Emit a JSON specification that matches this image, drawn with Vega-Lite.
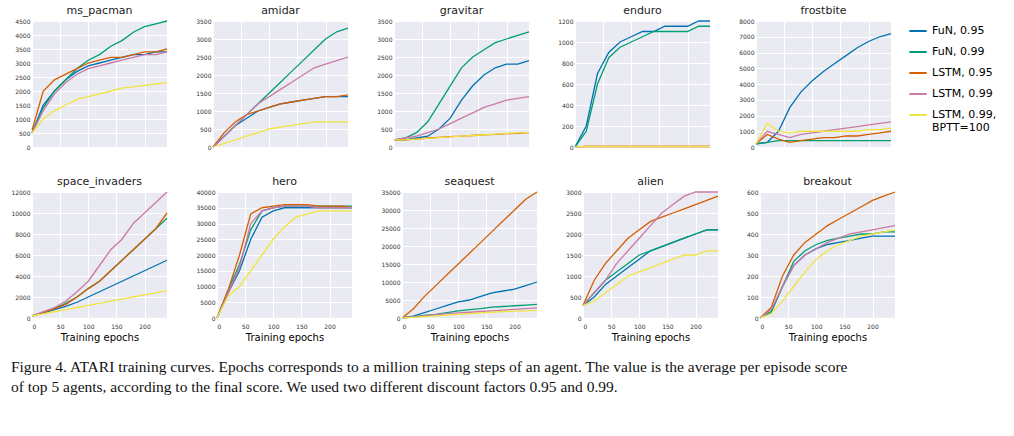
{
  "$schema": "https://vega.github.io/schema/vega-lite/v6.json",
  "background": "white",
  "padding": {"left": 10, "top": 5, "right": 5, "bottom": 5},
  "data": {"values": [
    {"g":"ms_pacman","e":0,"a":500,"b":500,"c":600,"d":500,"f":500},
    {"g":"ms_pacman","e":20,"a":1500,"b":1400,"c":2000,"d":1300,"f":1000},
    {"g":"ms_pacman","e":40,"a":2000,"b":2000,"c":2400,"d":1900,"f":1300},
    {"g":"ms_pacman","e":60,"a":2400,"b":2400,"c":2600,"d":2300,"f":1500},
    {"g":"ms_pacman","e":80,"a":2700,"b":2800,"c":2800,"d":2600,"f":1700},
    {"g":"ms_pacman","e":100,"a":2900,"b":3100,"c":3000,"d":2800,"f":1800},
    {"g":"ms_pacman","e":120,"a":3000,"b":3300,"c":3100,"d":2900,"f":1900},
    {"g":"ms_pacman","e":140,"a":3100,"b":3600,"c":3200,"d":3000,"f":2000},
    {"g":"ms_pacman","e":160,"a":3200,"b":3800,"c":3200,"d":3100,"f":2100},
    {"g":"ms_pacman","e":180,"a":3300,"b":4100,"c":3300,"d":3200,"f":2150},
    {"g":"ms_pacman","e":200,"a":3300,"b":4300,"c":3400,"d":3300,"f":2200},
    {"g":"ms_pacman","e":220,"a":3400,"b":4400,"c":3400,"d":3300,"f":2250},
    {"g":"ms_pacman","e":240,"a":3400,"b":4500,"c":3500,"d":3400,"f":2300},
    {"g":"amidar","e":0,"a":0,"b":0,"c":0,"d":0,"f":0},
    {"g":"amidar","e":20,"a":300,"b":300,"c":400,"d":300,"f":100},
    {"g":"amidar","e":40,"a":600,"b":600,"c":700,"d":600,"f":200},
    {"g":"amidar","e":60,"a":800,"b":900,"c":900,"d":900,"f":300},
    {"g":"amidar","e":80,"a":1000,"b":1200,"c":1000,"d":1200,"f":400},
    {"g":"amidar","e":100,"a":1100,"b":1500,"c":1100,"d":1400,"f":500},
    {"g":"amidar","e":120,"a":1200,"b":1800,"c":1200,"d":1600,"f":550},
    {"g":"amidar","e":140,"a":1250,"b":2100,"c":1250,"d":1800,"f":600},
    {"g":"amidar","e":160,"a":1300,"b":2400,"c":1300,"d":2000,"f":650},
    {"g":"amidar","e":180,"a":1350,"b":2700,"c":1350,"d":2200,"f":700},
    {"g":"amidar","e":200,"a":1400,"b":3000,"c":1400,"d":2300,"f":700},
    {"g":"amidar","e":220,"a":1400,"b":3200,"c":1400,"d":2400,"f":700},
    {"g":"amidar","e":240,"a":1400,"b":3300,"c":1450,"d":2500,"f":700},
    {"g":"gravitar","e":0,"a":200,"b":200,"c":200,"d":200,"f":200},
    {"g":"gravitar","e":20,"a":200,"b":250,"c":200,"d":250,"f":200},
    {"g":"gravitar","e":40,"a":250,"b":400,"c":220,"d":300,"f":220},
    {"g":"gravitar","e":60,"a":300,"b":700,"c":250,"d":400,"f":240},
    {"g":"gravitar","e":80,"a":500,"b":1200,"c":270,"d":500,"f":260},
    {"g":"gravitar","e":100,"a":800,"b":1700,"c":290,"d":650,"f":280},
    {"g":"gravitar","e":120,"a":1300,"b":2200,"c":300,"d":800,"f":300},
    {"g":"gravitar","e":140,"a":1700,"b":2500,"c":320,"d":950,"f":320},
    {"g":"gravitar","e":160,"a":2000,"b":2700,"c":340,"d":1100,"f":340},
    {"g":"gravitar","e":180,"a":2200,"b":2900,"c":350,"d":1200,"f":360},
    {"g":"gravitar","e":200,"a":2300,"b":3000,"c":370,"d":1300,"f":380},
    {"g":"gravitar","e":220,"a":2300,"b":3100,"c":380,"d":1350,"f":390},
    {"g":"gravitar","e":240,"a":2400,"b":3200,"c":400,"d":1400,"f":400},
    {"g":"enduro","e":0,"a":0,"b":0,"c":0,"d":0,"f":0},
    {"g":"enduro","e":20,"a":200,"b":150,"c":5,"d":5,"f":5},
    {"g":"enduro","e":40,"a":700,"b":600,"c":5,"d":5,"f":5},
    {"g":"enduro","e":60,"a":900,"b":850,"c":5,"d":5,"f":5},
    {"g":"enduro","e":80,"a":1000,"b":950,"c":5,"d":5,"f":5},
    {"g":"enduro","e":100,"a":1050,"b":1000,"c":5,"d":5,"f":5},
    {"g":"enduro","e":120,"a":1100,"b":1050,"c":5,"d":5,"f":5},
    {"g":"enduro","e":140,"a":1100,"b":1100,"c":5,"d":5,"f":5},
    {"g":"enduro","e":160,"a":1150,"b":1100,"c":5,"d":5,"f":5},
    {"g":"enduro","e":180,"a":1150,"b":1100,"c":5,"d":5,"f":5},
    {"g":"enduro","e":200,"a":1150,"b":1100,"c":5,"d":5,"f":5},
    {"g":"enduro","e":220,"a":1200,"b":1150,"c":5,"d":5,"f":5},
    {"g":"enduro","e":240,"a":1200,"b":1150,"c":5,"d":5,"f":5},
    {"g":"frostbite","e":0,"a":200,"b":200,"c":200,"d":200,"f":200},
    {"g":"frostbite","e":20,"a":300,"b":300,"c":800,"d":1000,"f":1500},
    {"g":"frostbite","e":40,"a":1000,"b":400,"c":500,"d":800,"f":1000},
    {"g":"frostbite","e":60,"a":2500,"b":400,"c":300,"d":600,"f":900},
    {"g":"frostbite","e":80,"a":3500,"b":400,"c":400,"d":800,"f":1000},
    {"g":"frostbite","e":100,"a":4200,"b":400,"c":500,"d":900,"f":1000},
    {"g":"frostbite","e":120,"a":4800,"b":400,"c":600,"d":1000,"f":1000},
    {"g":"frostbite","e":140,"a":5300,"b":400,"c":600,"d":1100,"f":1000},
    {"g":"frostbite","e":160,"a":5800,"b":400,"c":700,"d":1200,"f":1000},
    {"g":"frostbite","e":180,"a":6300,"b":400,"c":700,"d":1300,"f":1000},
    {"g":"frostbite","e":200,"a":6700,"b":400,"c":800,"d":1400,"f":1100},
    {"g":"frostbite","e":220,"a":7000,"b":400,"c":900,"d":1500,"f":1100},
    {"g":"frostbite","e":240,"a":7200,"b":400,"c":1000,"d":1600,"f":1200},
    {"g":"space_invaders","e":0,"a":200,"b":200,"c":200,"d":200,"f":200},
    {"g":"space_invaders","e":20,"a":500,"b":500,"c":500,"d":600,"f":400},
    {"g":"space_invaders","e":40,"a":800,"b":900,"c":900,"d":1000,"f":600},
    {"g":"space_invaders","e":60,"a":1100,"b":1400,"c":1300,"d":1600,"f":800},
    {"g":"space_invaders","e":80,"a":1500,"b":2000,"c":2000,"d":2500,"f":1000},
    {"g":"space_invaders","e":100,"a":2000,"b":2800,"c":2800,"d":3500,"f":1200},
    {"g":"space_invaders","e":120,"a":2500,"b":3500,"c":3500,"d":5000,"f":1400},
    {"g":"space_invaders","e":140,"a":3000,"b":4500,"c":4500,"d":6500,"f":1600},
    {"g":"space_invaders","e":160,"a":3500,"b":5500,"c":5500,"d":7500,"f":1800},
    {"g":"space_invaders","e":180,"a":4000,"b":6500,"c":6500,"d":9000,"f":2000},
    {"g":"space_invaders","e":200,"a":4500,"b":7500,"c":7500,"d":10000,"f":2200},
    {"g":"space_invaders","e":220,"a":5000,"b":8500,"c":8500,"d":11000,"f":2400},
    {"g":"space_invaders","e":240,"a":5500,"b":9500,"c":10000,"d":12000,"f":2600},
    {"g":"hero","e":0,"a":0,"b":0,"c":0,"d":0,"f":0},
    {"g":"hero","e":20,"a":8000,"b":9000,"c":9000,"d":8000,"f":7000},
    {"g":"hero","e":40,"a":15000,"b":17000,"c":20000,"d":16000,"f":10000},
    {"g":"hero","e":60,"a":25000,"b":28000,"c":33000,"d":30000,"f":15000},
    {"g":"hero","e":80,"a":32000,"b":34000,"c":35000,"d":34000,"f":20000},
    {"g":"hero","e":100,"a":34000,"b":35000,"c":35500,"d":35000,"f":25000},
    {"g":"hero","e":120,"a":35000,"b":35500,"c":36000,"d":35500,"f":29000},
    {"g":"hero","e":140,"a":35000,"b":35500,"c":36000,"d":35500,"f":32000},
    {"g":"hero","e":160,"a":35000,"b":35500,"c":36000,"d":35500,"f":33000},
    {"g":"hero","e":180,"a":35000,"b":35500,"c":35500,"d":35000,"f":34000},
    {"g":"hero","e":200,"a":35000,"b":35500,"c":35500,"d":35000,"f":34000},
    {"g":"hero","e":220,"a":35000,"b":35500,"c":35500,"d":35000,"f":34000},
    {"g":"hero","e":240,"a":35000,"b":35500,"c":35000,"d":35000,"f":34000},
    {"g":"seaquest","e":0,"a":0,"b":0,"c":0,"d":0,"f":0},
    {"g":"seaquest","e":20,"a":500,"b":300,"c":2500,"d":300,"f":200},
    {"g":"seaquest","e":40,"a":1500,"b":700,"c":6000,"d":600,"f":400},
    {"g":"seaquest","e":60,"a":2500,"b":1000,"c":9000,"d":900,"f":600},
    {"g":"seaquest","e":80,"a":3500,"b":1500,"c":12000,"d":1200,"f":800},
    {"g":"seaquest","e":100,"a":4500,"b":2000,"c":15000,"d":1400,"f":1000},
    {"g":"seaquest","e":120,"a":5000,"b":2300,"c":18000,"d":1600,"f":1200},
    {"g":"seaquest","e":140,"a":6000,"b":2600,"c":21000,"d":1800,"f":1400},
    {"g":"seaquest","e":160,"a":7000,"b":3000,"c":24000,"d":2000,"f":1600},
    {"g":"seaquest","e":180,"a":7500,"b":3200,"c":27000,"d":2200,"f":1800},
    {"g":"seaquest","e":200,"a":8000,"b":3400,"c":30000,"d":2400,"f":1900},
    {"g":"seaquest","e":220,"a":9000,"b":3600,"c":33000,"d":2600,"f":2000},
    {"g":"seaquest","e":240,"a":10000,"b":3800,"c":35000,"d":2800,"f":2100},
    {"g":"alien","e":0,"a":300,"b":300,"c":300,"d":300,"f":300},
    {"g":"alien","e":20,"a":500,"b":600,"c":900,"d":600,"f":400},
    {"g":"alien","e":40,"a":800,"b":900,"c":1300,"d":900,"f":600},
    {"g":"alien","e":60,"a":1000,"b":1100,"c":1600,"d":1300,"f":800},
    {"g":"alien","e":80,"a":1200,"b":1300,"c":1900,"d":1600,"f":1000},
    {"g":"alien","e":100,"a":1400,"b":1500,"c":2100,"d":1900,"f":1100},
    {"g":"alien","e":120,"a":1600,"b":1600,"c":2300,"d":2200,"f":1200},
    {"g":"alien","e":140,"a":1700,"b":1700,"c":2400,"d":2500,"f":1300},
    {"g":"alien","e":160,"a":1800,"b":1800,"c":2500,"d":2700,"f":1400},
    {"g":"alien","e":180,"a":1900,"b":1900,"c":2600,"d":2900,"f":1500},
    {"g":"alien","e":200,"a":2000,"b":2000,"c":2700,"d":3000,"f":1500},
    {"g":"alien","e":220,"a":2100,"b":2100,"c":2800,"d":3000,"f":1600},
    {"g":"alien","e":240,"a":2100,"b":2100,"c":2900,"d":3000,"f":1600},
    {"g":"breakout","e":0,"a":0,"b":0,"c":0,"d":0,"f":0},
    {"g":"breakout","e":20,"a":30,"b":30,"c":50,"d":40,"f":20},
    {"g":"breakout","e":40,"a":150,"b":150,"c":200,"d":150,"f":80},
    {"g":"breakout","e":60,"a":250,"b":270,"c":300,"d":250,"f":150},
    {"g":"breakout","e":80,"a":300,"b":320,"c":360,"d":300,"f":220},
    {"g":"breakout","e":100,"a":330,"b":350,"c":400,"d":330,"f":280},
    {"g":"breakout","e":120,"a":350,"b":370,"c":440,"d":360,"f":320},
    {"g":"breakout","e":140,"a":360,"b":380,"c":470,"d":380,"f":350},
    {"g":"breakout","e":160,"a":370,"b":390,"c":500,"d":400,"f":370},
    {"g":"breakout","e":180,"a":380,"b":400,"c":530,"d":410,"f":390},
    {"g":"breakout","e":200,"a":390,"b":400,"c":560,"d":420,"f":400},
    {"g":"breakout","e":220,"a":390,"b":410,"c":580,"d":430,"f":410},
    {"g":"breakout","e":240,"a":390,"b":410,"c":600,"d":440,"f":420}
  ]},
  "transform": [{"fold": ["a", "b", "c", "d", "f"], "as": ["s", "v"]}],
  "facet": {
    "field": "g", "type": "nominal",
    "sort": ["ms_pacman","amidar","gravitar","enduro","frostbite","space_invaders","hero","seaquest","alien","breakout"],
    "header": {"title": null, "labelFontSize": 11, "labelFont": "DejaVu Sans", "labelPadding": 2, "labelColor": "#222"}
  },
  "columns": 5,
  "spacing": {"row": 26, "column": 25},
  "resolve": {"scale": {"y": "independent"}},
  "spec": {
    "width": 135,
    "height": 126,
    "mark": {"type": "line", "strokeWidth": 1.3},
    "encoding": {
      "x": {"field": "e", "type": "quantitative", "scale": {"domain": [0, 240], "nice": false},
        "axis": {"values": [0, 50, 100, 150, 200], "title": "Training epochs"}},
      "y": {"field": "v", "type": "quantitative", "title": null, "axis": {"tickCount": 8, "format": "d"}},
      "color": {"field": "s", "type": "nominal",
        "scale": {"domain": ["a","b","c","d","f"], "range": ["#0072B2", "#009E73", "#D55E00", "#CC79A7", "#F0E442"]},
        "legend": {"title": null, "labelFontSize": 11, "labelFont": "DejaVu Sans", "symbolType": "stroke", "symbolStrokeWidth": 2, "symbolSize": 300,
          "labelExpr": "datum.label == 'a' ? 'FuN, 0.95' : datum.label == 'b' ? 'FuN, 0.99' : datum.label == 'c' ? 'LSTM, 0.95' : datum.label == 'd' ? 'LSTM, 0.99' : ['LSTM, 0.99,', 'BPTT=100']",
          "orient": "right", "offset": 10, "rowPadding": 6}}
    }
  },
  "title": {
    "text": ["Figure 4. ATARI training curves. Epochs corresponds to a million training steps of an agent. The value is the average per episode score", "of top 5 agents, according to the final score. We used two different discount factors 0.95 and 0.99."],
    "orient": "bottom", "anchor": "start", "font": "Liberation Serif", "fontSize": 15.5, "fontWeight": "normal", "offset": 18, "lineHeight": 20, "color": "#111"
  },
  "config": {
    "view": {"fill": "#EAEAF2", "stroke": null},
    "axis": {"grid": true, "gridColor": "white", "gridWidth": 1, "domain": false, "ticks": false, "labelFontSize": 6, "labelFont": "DejaVu Sans", "labelPadding": 2, "titleFontSize": 10, "titleFont": "DejaVu Sans", "titleFontWeight": "normal", "titlePadding": 3, "labelColor": "#333"}
  }
}
